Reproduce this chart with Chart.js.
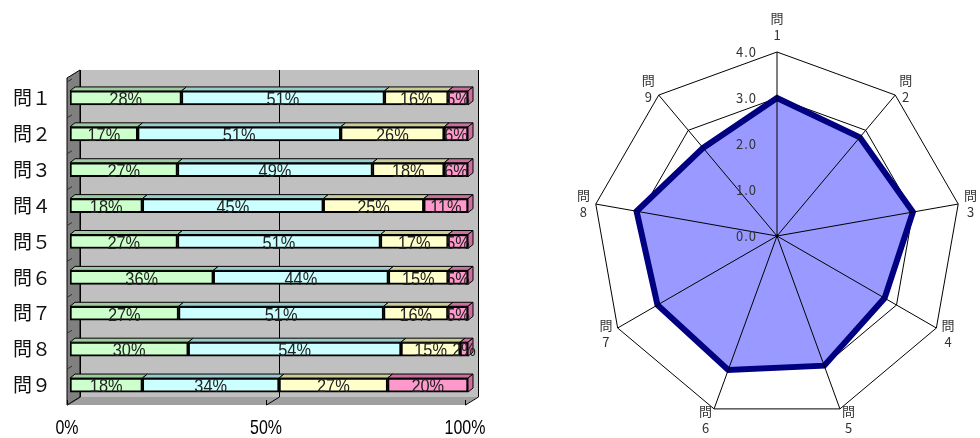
<!DOCTYPE html>
<html><head><meta charset="utf-8">
<script src="https://cdn.jsdelivr.net/npm/chart.js@4.4.0/dist/chart.umd.min.js"></script>
<style>
html,body{margin:0;padding:0;background:#fff;width:980px;height:438px;overflow:hidden}
#bar{position:absolute;left:0;top:0}
#radar{position:absolute;left:574px;top:0}
</style></head><body>
<canvas id="bar" width="500" height="438"></canvas>
<canvas id="radar" width="406" height="438"></canvas>
<script>
// ---- data ----
const categories = ['問1','問2','問3','問4','問5','問6','問7','問8','問9'];
const seriesA = [28,17,27,18,27,36,27,30,18];
const seriesB = [51,51,49,45,51,44,51,54,34];
const seriesC = [16,26,18,25,17,15,16,15,27];
const seriesD = [5,6,6,11,5,5,5,2,20];
const barTicks = [0,50,100];
const radarValues = [3.0,2.8,3.0,2.7,3.0,3.1,3.0,3.1,2.5];
const radarTicks = [0,1,2,3,4];

// ---- styles ----
const faceColors = ['#CCFFCC','#CCFFFF','#FFFFCC','#FF99CC'];
const topColors  = ['#9FCC9F','#99CCCC','#CCCC99','#CC6F9F'];
const SANS = '"Liberation Sans",Arial,sans-serif';
const CJK = '"Noto Sans CJK JP","Noto Sans",sans-serif';

const series = [seriesA, seriesB, seriesC, seriesD];
const totals = categories.map((_, i) => series.reduce((a, s) => a + s[i], 0));
const toFull = s => s.replace(/[0-9]/g, d => String.fromCharCode(d.charCodeAt(0) + 0xFEE0));

function narrowText(ctx, text, x, y, sx) {
  ctx.save();
  ctx.translate(x, y);
  ctx.scale(sx, 1);
  ctx.fillText(text, 0, 0);
  ctx.restore();
}

const DX = 13, DY = -8;  // wall depth
const bd = 5, bdy = 4;   // bar depth

const wallPlugin = {
  id: 'walls',
  beforeDatasetsDraw(chart) {
    const ctx = chart.ctx, ca = chart.chartArea, xs = chart.scales.x, ys = chart.scales.y;
    const fx0 = xs.getPixelForValue(0) - 3, fx1 = xs.getPixelForValue(100) - 3;
    const fT = ca.top - 2, fB = ca.bottom + 2;
    ctx.save();
    ctx.fillStyle = '#C0C0C0';
    ctx.fillRect(fx0 + DX, fT + DY, fx1 - fx0, fB - fT);
    ctx.fillStyle = '#808080';
    ctx.beginPath();
    ctx.moveTo(fx0, fT); ctx.lineTo(fx0 + DX, fT + DY); ctx.lineTo(fx0 + DX, fB + DY); ctx.lineTo(fx0, fB); ctx.closePath();
    ctx.fill();
    ctx.strokeStyle = '#000'; ctx.lineWidth = 1; ctx.stroke();
    ctx.fillStyle = '#A0A0A0';
    ctx.beginPath();
    ctx.moveTo(fx0, fB); ctx.lineTo(fx0 + DX, fB + DY); ctx.lineTo(fx1 + DX, fB + DY); ctx.lineTo(fx1, fB); ctx.closePath();
    ctx.fill();
    ctx.strokeStyle = '#000'; ctx.lineWidth = 1;
    barTicks.forEach(v => {
      const x = Math.round(xs.getPixelForValue(v) - 3) + 0.5;
      ctx.beginPath();
      ctx.moveTo(x + DX, fT + DY); ctx.lineTo(x + DX, fB + DY); ctx.lineTo(x, fB); ctx.lineTo(x, fB - 5);
      ctx.stroke();
    });
    ctx.strokeStyle = '#333';
    for (let i = 0; i <= categories.length; i++) {
      const y = ys.getPixelForValue(i - 0.5);
      ctx.beginPath(); ctx.moveTo(fx0, y + 2); ctx.lineTo(fx0 + 5, y - 1); ctx.stroke();
    }
    ctx.restore();
  },
  afterDatasetsDraw(chart) {
    const ctx = chart.ctx, xs = chart.scales.x;
    const n = chart.data.datasets.length;
    ctx.save();
    for (let k = 0; k < n; k++) {
      const meta = chart.getDatasetMeta(k);
      meta.data.forEach((el) => {
        const p = el.getProps(['x', 'y', 'base', 'height'], true);
        const l = Math.min(p.x, p.base), r = Math.max(p.x, p.base), t = p.y - p.height / 2;
        ctx.fillStyle = topColors[k]; ctx.strokeStyle = '#000'; ctx.lineWidth = 1;
        ctx.beginPath();
        ctx.moveTo(l, t); ctx.lineTo(l + bd, t - bdy); ctx.lineTo(r + bd, t - bdy); ctx.lineTo(r, t); ctx.closePath();
        ctx.fill(); ctx.stroke();
        if (k === n - 1) {
          ctx.beginPath();
          ctx.moveTo(r, t); ctx.lineTo(r + bd, t - bdy); ctx.lineTo(r + bd, t + p.height - bdy); ctx.lineTo(r, t + p.height); ctx.closePath();
          ctx.fill(); ctx.stroke();
        }
      });
    }
    // value labels
    ctx.fillStyle = '#222';
    ctx.font = '19px ' + SANS;
    ctx.textAlign = 'center'; ctx.textBaseline = 'middle';
    for (let k = 0; k < n; k++) {
      const meta = chart.getDatasetMeta(k);
      meta.data.forEach((el, i) => {
        const p = el.getProps(['x', 'y', 'base'], true);
        narrowText(ctx, series[k][i] + '%', (p.x + p.base) / 2, p.y + 2, 0.86);
      });
    }
    // x tick labels (condensed)
    ctx.fillStyle = '#000';
    ctx.font = '21px ' + SANS;
    ctx.textBaseline = 'middle';
    xs.ticks.forEach((t, i) => {
      narrowText(ctx, t.value + '%', xs.getPixelForTick(i) - 3, 428, 0.76);
    });
    ctx.restore();
  }
};

new Chart(document.getElementById('bar'), {
  type: 'bar',
  data: {
    labels: categories,
    datasets: series.map((s, k) => ({
      label: 'S' + (k + 1),
      data: s.map((v, i) => v * 100 / totals[i]),
      backgroundColor: faceColors[k],
      borderColor: '#000',
      borderWidth: 2,
      borderSkipped: false,
      barThickness: 14
    }))
  },
  options: {
    indexAxis: 'y',
    responsive: false, animation: false, devicePixelRatio: 1,
    layout: { padding: { top: 80, right: 32, left: 0, bottom: 0 } },
    plugins: { legend: { display: false }, tooltip: { enabled: false } },
    scales: {
      x: {
        stacked: true, min: 0, max: 100,
        afterBuildTicks: s => { s.ticks = barTicks.map(v => ({ value: v })); },
        ticks: { display: false },
        grid: { display: false, drawTicks: false }, border: { display: false },
        afterFit: s => { s.height = 35; }
      },
      y: {
        stacked: true,
        ticks: { font: { family: CJK, size: 19 }, color: '#111', padding: 19,
          callback: function (v) { return toFull(this.getLabelForValue(v)); } },
        grid: { display: false, drawTicks: false }, border: { display: false },
        afterFit: s => { s.width = 70; }
      }
    }
  },
  plugins: [wallPlugin]
});

const radarPlugin = {
  id: 'radarExtras',
  afterDatasetsDraw(chart) {
    const ctx = chart.ctx, s = chart.scales.r;
    const labels = chart.data.labels;
    ctx.save();
    ctx.strokeStyle = '#000'; ctx.lineWidth = 1;
    for (let i = 0; i < labels.length; i++) {
      const p = s.getPointPosition(i, s.drawingArea);
      ctx.beginPath(); ctx.moveTo(s.xCenter, s.yCenter); ctx.lineTo(p.x, p.y); ctx.stroke();
    }
    ctx.fillStyle = '#000';
    ctx.beginPath(); ctx.arc(s.xCenter, s.yCenter, 1.5, 0, Math.PI * 2); ctx.fill();
    // tick labels
    ctx.fillStyle = '#333';
    ctx.font = '13px ' + CJK;
    ctx.textAlign = 'right'; ctx.textBaseline = 'middle';
    if ('letterSpacing' in ctx) ctx.letterSpacing = '1px';
    radarTicks.forEach(v => {
      const y = s.yCenter - s.getDistanceFromCenterForValue(v);
      ctx.fillText(v.toFixed(1), s.xCenter - 20, y);
    });
    if ('letterSpacing' in ctx) ctx.letterSpacing = '0px';
    // point labels (two lines)
    ctx.textAlign = 'center';
    const lh = 17, bw = 13;
    labels.forEach((lab, i) => {
      const p = s.getPointPosition(i, s.drawingArea + 6);
      const a = (i / labels.length) * Math.PI * 2;
      const sn = Math.sin(a), cs = Math.cos(a);
      let cx;
      if (Math.abs(sn) < 0.1) cx = p.x; else if (sn > 0) cx = p.x + bw / 2; else cx = p.x - bw / 2;
      let cy;
      if (i === 0) cy = p.y - 2 * lh + 6; else cy = p.y - lh / 2 + 1 - cs * 4;
      ctx.fillText(lab.slice(0, 1), cx, cy);
      ctx.fillText(lab.slice(1), cx, cy + lh);
    });
    ctx.restore();
  }
};

new Chart(document.getElementById('radar'), {
  type: 'radar',
  data: {
    labels: categories,
    datasets: [{
      data: radarValues,
      backgroundColor: '#9999FF',
      borderColor: '#000080',
      borderWidth: 6,
      borderJoinStyle: 'miter',
      pointRadius: 0,
      fill: true
    }]
  },
  options: {
    responsive: false, animation: false, devicePixelRatio: 1,
    layout: { padding: { left: 19, right: 19, top: 52, bottom: 18 } },
    plugins: { legend: { display: false }, tooltip: { enabled: false } },
    scales: {
      r: {
        min: 0, max: 4,
        afterBuildTicks: s => { s.ticks = radarTicks.map(v => ({ value: v })); },
        ticks: { display: false },
        grid: { color: '#000', lineWidth: 1 },
        angleLines: { display: false },
        pointLabels: { display: false }
      }
    }
  },
  plugins: [radarPlugin]
});
</script>
</body></html>
